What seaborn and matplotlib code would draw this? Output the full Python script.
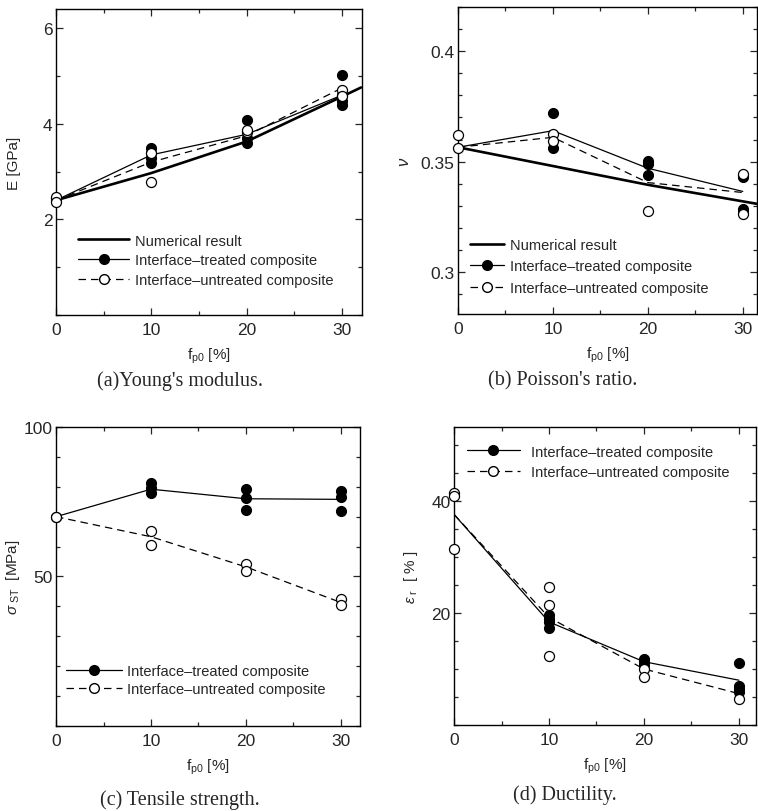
import numpy as np
import pandas as pd
import matplotlib
matplotlib.use("Agg")
import matplotlib.pyplot as plt
import seaborn as sns
from matplotlib.ticker import MultipleLocator
from matplotlib.lines import Line2D

sns.set_style("ticks")
plt.rcParams["font.family"] = ["Liberation Sans", "DejaVu Sans"]
plt.rcParams["mathtext.fontset"] = "custom"
plt.rcParams["mathtext.rm"] = "Liberation Sans"
plt.rcParams["mathtext.it"] = "Liberation Sans:italic"

# ---- (a) Young's modulus ----
a_num_x = [0, 10, 20, 30, 32]
a_num_y = [2.4, 2.97, 3.63, 4.57, 4.76]
a_line_x = [0, 10, 20, 30]
a_trt_line = [2.4, 3.35, 3.78, 4.6]
a_unt_line = [2.4, 3.2, 3.75, 4.75]
a_trt_x = [0, 0, 10, 10, 10, 10, 20, 20, 20, 30, 30, 30, 30]
a_trt_y = [2.4, 2.45, 3.5, 3.38, 3.28, 3.18, 4.07, 3.7, 3.6, 5.02, 4.6, 4.47, 4.4]
a_unt_x = [0, 0, 10, 10, 20, 20, 30, 30]
a_unt_y = [2.47, 2.37, 2.78, 3.38, 3.82, 3.86, 4.7, 4.58]

# ---- (b) Poisson's ratio ----
b_num_x = [0, 10, 20, 30, 32]
b_num_y = [0.3565, 0.348, 0.3395, 0.332, 0.3305]
b_line_x = [0, 10, 20, 30]
b_trt_line = [0.3565, 0.364, 0.347, 0.3365]
b_unt_line = [0.3565, 0.361, 0.3405, 0.336]
b_trt_x = [10, 10, 20, 20, 20, 30, 30, 30, 30]
b_trt_y = [0.372, 0.356, 0.3505, 0.349, 0.344, 0.3435, 0.343, 0.3285, 0.3275]
b_unt_x = [0, 0, 10, 10, 20, 30, 30]
b_unt_y = [0.362, 0.356, 0.3625, 0.3595, 0.3275, 0.3445, 0.3265]

# ---- (c) Tensile strength ----
c_line_x = [0, 10, 20, 30]
c_trt_line = [70, 79.2, 76.0, 75.8]
c_unt_line = [70, 63.3, 53.2, 41.3]
c_trt_x = [0, 10, 10, 10, 20, 20, 20, 30, 30, 30]
c_trt_y = [70, 81.2, 79.5, 78.0, 79.2, 76.3, 72.2, 78.5, 76.7, 72.0]
c_unt_x = [0, 10, 10, 20, 20, 30, 30]
c_unt_y = [70, 65.2, 60.7, 54.3, 52.0, 42.5, 40.5]

# ---- (d) Ductility ----
d_line_x = [0, 10, 20, 30]
d_trt_line = [37.6, 18.4, 11.3, 8.0]
d_unt_line = [37.6, 19.2, 10.0, 5.6]
d_trt_x = [10, 10, 10, 10, 20, 20, 20, 30, 30, 30, 30]
d_trt_y = [19.6, 19.0, 18.4, 17.3, 11.7, 11.2, 10.7, 11.0, 7.0, 6.4, 5.9]
d_unt_x = [0, 0, 0, 10, 10, 10, 20, 20, 30]
d_unt_y = [41.5, 40.8, 31.4, 24.6, 21.4, 12.4, 10.0, 8.5, 4.7]

LBL_NUM = "Numerical result"
LBL_TRT = "Interface\u2013treated composite"
LBL_UNT = "Interface\u2013untreated composite"

fig = plt.figure(figsize=(7.58, 8.12), dpi=100)
ax_a = fig.add_axes([0.0739, 0.6108, 0.4037, 0.3768])
ax_b = fig.add_axes([0.6042, 0.6121, 0.3945, 0.378])
ax_c = fig.add_axes([0.0739, 0.1047, 0.401, 0.3682])
ax_d = fig.add_axes([0.599, 0.1059, 0.3984, 0.367])

MS = 52
LW_THIN = 0.9
LW_THICK = 1.9
DASH = (6, 4)


def draw_panel(ax, line_x, trt_line, unt_line, trt_x, trt_y, unt_x, unt_y,
               num_x=None, num_y=None):
    if num_x is not None:
        sns.lineplot(x=num_x, y=num_y, ax=ax, color="black", lw=LW_THICK,
                     estimator=None, sort=False)
    sns.lineplot(x=line_x, y=trt_line, ax=ax, color="black", lw=LW_THIN,
                 estimator=None, sort=False)
    sns.lineplot(x=line_x, y=unt_line, ax=ax, color="black", lw=LW_THIN,
                 estimator=None, sort=False, dashes=False, linestyle=(0, DASH))
    sns.scatterplot(x=trt_x, y=trt_y, ax=ax, color="black", s=MS,
                    edgecolor="black", linewidth=0.8, clip_on=False, zorder=4)
    sns.scatterplot(x=unt_x, y=unt_y, ax=ax, facecolor="white", s=MS,
                    edgecolor="black", linewidth=0.9, clip_on=False, zorder=5)


def style_axes(ax, xlim, ylim, yticks, yticklabels, yminor):
    ax.set_xlim(*xlim)
    ax.set_ylim(*ylim)
    ax.set_xticks([0, 10, 20, 30], labels=["0", "10", "20", "30"])
    ax.xaxis.set_minor_locator(MultipleLocator(5))
    ax.set_yticks(yticks, labels=yticklabels)
    ax.yaxis.set_minor_locator(MultipleLocator(yminor))
    ax.tick_params(which="both", direction="in", top=True, right=True,
                   width=0.9, labelsize=12.5)
    ax.tick_params(which="major", length=5)
    ax.tick_params(axis="x", which="major", pad=5)
    ax.tick_params(axis="y", which="major", pad=2.5)
    ax.tick_params(which="minor", length=3)
    for sp in ax.spines.values():
        sp.set_linewidth(1.0)
        sp.set_color("black")
        sp.set_visible(True)
    ax.set_xlabel(r"f$_{\rm p0}$ [%]", fontsize=11, labelpad=6)


def legend_handles(with_num=True):
    h = []
    if with_num:
        h.append(Line2D([], [], color="black", lw=LW_THICK, label=LBL_NUM))
    h.append(Line2D([], [], color="black", lw=LW_THIN, marker="o", ms=7,
                    mfc="black", mec="black", label=LBL_TRT))
    h.append(Line2D([], [], color="black", lw=LW_THIN, ls=(0, DASH), marker="o",
                    ms=7, mfc="white", mec="black", label=LBL_UNT))
    return h


# (a)
draw_panel(ax_a, a_line_x, a_trt_line, a_unt_line, a_trt_x, a_trt_y,
           a_unt_x, a_unt_y, a_num_x, a_num_y)
style_axes(ax_a, (0, 32.1), (0, 6.4), [2, 4, 6], ["2", "4", "6"], 1)
ax_a.set_ylabel("E [GPa]", fontsize=11)
ax_a.yaxis.set_label_coords(-0.116, 0.5)
ax_a.legend(handles=legend_handles(), loc="lower left",
            bbox_to_anchor=(0.03, 0.05), frameon=False, fontsize=10.5,
            handlelength=3.5, handletextpad=0.4, labelspacing=0.38,
            numpoints=1)

# (b)
draw_panel(ax_b, b_line_x, b_trt_line, b_unt_line, b_trt_x, b_trt_y,
           b_unt_x, b_unt_y, b_num_x, b_num_y)
style_axes(ax_b, (0, 31.5), (0.281, 0.42), [0.3, 0.35, 0.4],
           ["0.3", "0.35", "0.4"], 0.01)
ax_b.set_ylabel(r"$\nu$", fontsize=12)
ax_b.yaxis.set_label_coords(-0.155, 0.5)
ax_b.legend(handles=legend_handles(), loc="lower left",
            bbox_to_anchor=(-0.005, 0.02), frameon=False, fontsize=10.5,
            handlelength=2.35, handletextpad=0.45, labelspacing=0.5,
            numpoints=1)

# (c)
draw_panel(ax_c, c_line_x, c_trt_line, c_unt_line, c_trt_x, c_trt_y,
           c_unt_x, c_unt_y)
style_axes(ax_c, (0, 32.0), (0, 100), [50, 100], ["50", "100"], 10)
ax_c.set_ylabel(r"$\sigma$$_{\rm\ ST}$  [MPa]", fontsize=11)
ax_c.yaxis.set_label_coords(-0.113, 0.5)
ax_c.legend(handles=legend_handles(False), loc="lower left",
            bbox_to_anchor=(-0.01, 0.055), frameon=False, fontsize=10.5,
            handlelength=3.8, handletextpad=0.4, labelspacing=0.3,
            numpoints=1)

# (d)
draw_panel(ax_d, d_line_x, d_trt_line, d_unt_line, d_trt_x, d_trt_y,
           d_unt_x, d_unt_y)
style_axes(ax_d, (0, 31.8), (0, 53.2), [20, 40], ["20", "40"], 5)
ax_d.set_ylabel(r"$\varepsilon$$_{\rm\ r}$  [ % ]", fontsize=11)
ax_d.yaxis.set_label_coords(-0.113, 0.5)
ax_d.legend(handles=legend_handles(False), loc="upper left",
            bbox_to_anchor=(0.0, 0.985), frameon=False, fontsize=10.5,
            handlelength=3.6, handletextpad=0.75, labelspacing=0.45,
            numpoints=1)

# captions
cap_kw = dict(ha="center", va="center", fontsize=14.5,
              family=["Liberation Serif", "DejaVu Serif"])
fig.text(180 / 758, 1 - 381 / 812, "(a)Young's modulus.", **cap_kw)
fig.text(563 / 758, 1 - 381 / 812, "(b) Poisson's ratio.", **cap_kw)
fig.text(180 / 758, 1 - 800 / 812, "(c) Tensile strength.", **cap_kw)
fig.text(565 / 758, 1 - 795 / 812, "(d) Ductility.", **cap_kw)

fig.savefig("out.png", dpi=100, facecolor="white")
